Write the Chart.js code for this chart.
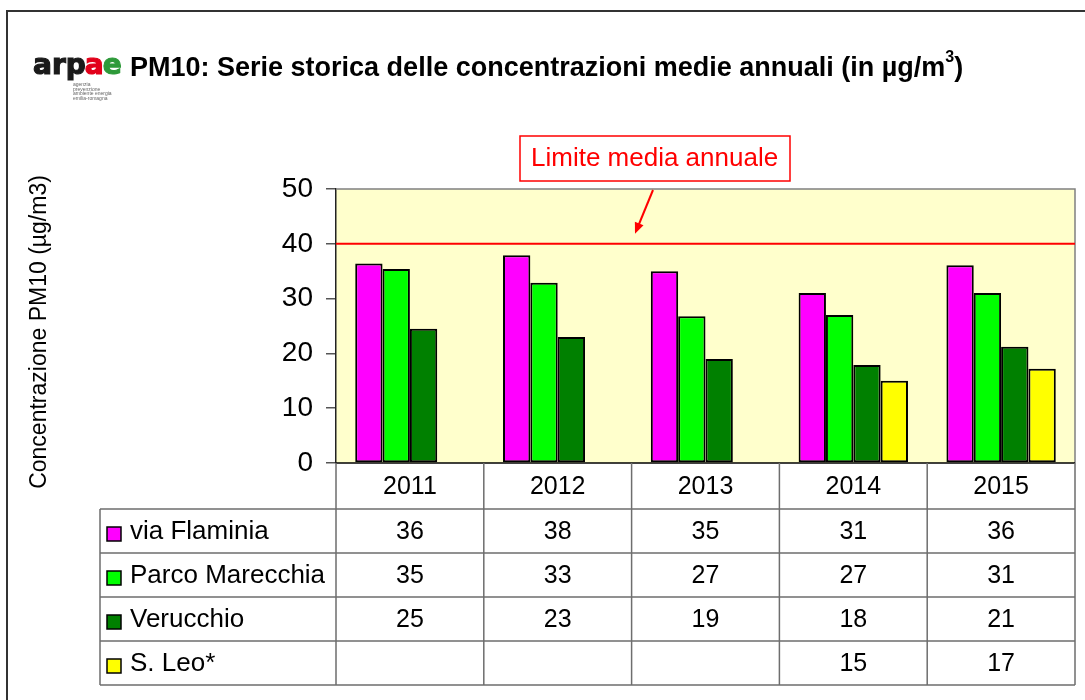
<!DOCTYPE html>
<html>
<head>
<meta charset="utf-8">
<script src="https://cdn.jsdelivr.net/npm/chart.js@4.4.1/dist/chart.umd.min.js"></script>
<style>
  html, body { margin: 0; padding: 0; background: #fff; }
  #wrap { width: 1085px; height: 700px; }
</style>
</head>
<body>
<div id="wrap"><canvas id="pm10Chart" width="1085" height="700"></canvas></div>
<script>
// =================== DATA ===================
const years = ["2011", "2012", "2013", "2014", "2015"];
const viaFlaminia = [36.4, 37.9, 35.0, 31.0, 36.1];
const parcoMarecchia = [35.4, 32.9, 26.8, 27.0, 31.0];
const verucchio = [24.5, 23.0, 19.0, 17.9, 21.2];
const sanLeo = [null, null, null, 15.0, 17.2];
const yTicks = [0, 10, 20, 30, 40, 50];
const limitValue = 40;
const seriesNames = ["via Flaminia", "Parco Marecchia", "Verucchio", "S. Leo*"];
const seriesColors = ["#FF00FF", "#00FF00", "#008000", "#FFFF00"];
const seriesData = [viaFlaminia, parcoMarecchia, verucchio, sanLeo];

const FONT = "'Liberation Sans', Arial, sans-serif";

// =================== PLUGINS ===================
// frame, plot background
const backgroundPlugin = {
  id: "bg",
  beforeDraw(chart) {
    const { ctx, chartArea: a } = chart;
    ctx.save();
    ctx.fillStyle = "#fff";
    ctx.fillRect(0, 0, chart.width, chart.height);
    ctx.strokeStyle = "#333";
    ctx.lineWidth = 2;
    ctx.strokeRect(7, 11, 1200, 800);
    ctx.fillStyle = "#FFFFCC";
    ctx.fillRect(a.left, a.top, a.right - a.left, a.bottom - a.top);
    ctx.restore();
  },
  afterDatasetsDraw(chart) {
    const { ctx, chartArea: a, scales: { y } } = chart;
    ctx.save();
    // gray top / right border
    ctx.strokeStyle = "#808080";
    ctx.lineWidth = 1.5;
    ctx.beginPath();
    ctx.moveTo(a.left, a.top);
    ctx.lineTo(a.right, a.top);
    ctx.lineTo(a.right, a.bottom);
    ctx.stroke();
    // limit line
    const ly = y.getPixelForValue(limitValue);
    ctx.strokeStyle = "#FF0000";
    ctx.lineWidth = 2;
    ctx.beginPath();
    ctx.moveTo(a.left, ly);
    ctx.lineTo(a.right, ly);
    ctx.stroke();
    // x axis line
    ctx.strokeStyle = "#000";
    ctx.lineWidth = 1.5;
    ctx.beginPath();
    ctx.moveTo(a.left, a.bottom);
    ctx.lineTo(a.right, a.bottom);
    ctx.stroke();
    ctx.restore();
  }
};

// title, logo, y title, annotation
const decorPlugin = {
  id: "decor",
  afterDraw(chart) {
    const { ctx, scales: { y } } = chart;
    ctx.save();

    // logo
    ctx.textBaseline = "alphabetic";
    ctx.font = "bold 28px 'DejaVu Sans', sans-serif";
    ctx.lineWidth = 1.2;
    let lx = 33;
    [["arp", "#1a1a1a"], ["a", "#E2001A"], ["e", "#2E9A3A"]].forEach(([t, c]) => {
      ctx.fillStyle = c;
      ctx.strokeStyle = c;
      ctx.fillText(t, lx, 74);
      ctx.strokeText(t, lx, 74);
      lx += ctx.measureText(t).width - 1;
    });
    ctx.font = "5px " + FONT;
    ctx.fillStyle = "#666";
    ["agenzia", "prevenzione", "ambiente energia", "emilia-romagna"].forEach((t, i) => {
      ctx.fillText(t, 73, 86 + i * 4.5);
    });

    // title
    ctx.fillStyle = "#000";
    ctx.font = "bold 27px " + FONT;
    const title = "PM10: Serie storica delle concentrazioni medie annuali (in µg/m";
    ctx.fillText(title, 130, 76);
    let tx = 130 + ctx.measureText(title).width;
    ctx.font = "bold 16px " + FONT;
    ctx.fillText("3", tx, 62);
    tx += ctx.measureText("3").width;
    ctx.font = "bold 27px " + FONT;
    ctx.fillText(")", tx, 76);

    // y title
    ctx.save();
    ctx.translate(40, 332);
    ctx.rotate(-Math.PI / 2);
    ctx.font = "23px " + FONT;
    ctx.textAlign = "center";
    ctx.textBaseline = "middle";
    ctx.fillText("Concentrazione PM10 (µg/m3)", 0, 0);
    ctx.restore();

    // annotation box
    ctx.fillStyle = "#fff";
    ctx.fillRect(520, 136, 270, 45);
    ctx.strokeStyle = "#FF0000";
    ctx.lineWidth = 1.5;
    ctx.strokeRect(520, 136, 270, 45);
    ctx.fillStyle = "#FF0000";
    ctx.font = "26px " + FONT;
    ctx.textBaseline = "middle";
    ctx.fillText("Limite media annuale", 531, 159);

    // arrow
    const ax0 = 653, ay0 = 190;
    const ax1 = 635, ay1 = y.getPixelForValue(limitValue) - 10;
    const ang = Math.atan2(ay1 - ay0, ax1 - ax0);
    ctx.strokeStyle = "#FF0000";
    ctx.lineWidth = 2;
    ctx.beginPath();
    ctx.moveTo(ax0, ay0);
    ctx.lineTo(ax1 - 6 * Math.cos(ang), ay1 - 6 * Math.sin(ang));
    ctx.stroke();
    ctx.beginPath();
    ctx.moveTo(ax1, ay1);
    ctx.lineTo(ax1 - 12 * Math.cos(ang - 0.4), ay1 - 12 * Math.sin(ang - 0.4));
    ctx.lineTo(ax1 - 12 * Math.cos(ang + 0.4), ay1 - 12 * Math.sin(ang + 0.4));
    ctx.closePath();
    ctx.fill();

    ctx.restore();
  }
};

// data table under the plot
const tablePlugin = {
  id: "dataTable",
  afterDraw(chart) {
    const { ctx, chartArea: a, scales: { x } } = chart;
    const top = a.bottom;
    const headBottom = top + 46;
    const rowH = 44;
    const tableLeft = 100;
    const bottom = headBottom + rowH * seriesNames.length;
    const half = (x.getPixelForValue(1) - x.getPixelForValue(0)) / 2;

    ctx.save();
    ctx.strokeStyle = "#6e6e6e";
    ctx.lineWidth = 1.5;
    ctx.beginPath();
    for (let r = 0; r <= seriesNames.length; r++) {
      const yy = headBottom + r * rowH;
      ctx.moveTo(tableLeft, yy);
      ctx.lineTo(a.right, yy);
    }
    ctx.moveTo(tableLeft, headBottom);
    ctx.lineTo(tableLeft, bottom);
    years.forEach((_, i) => {
      const xl = x.getPixelForValue(i) - half;
      ctx.moveTo(xl, top);
      ctx.lineTo(xl, bottom);
    });
    ctx.moveTo(a.right, top);
    ctx.lineTo(a.right, bottom);
    ctx.stroke();

    ctx.fillStyle = "#000";
    ctx.font = "25px " + FONT;
    ctx.textBaseline = "middle";
    ctx.textAlign = "center";
    years.forEach((yr, i) => {
      ctx.fillText(yr, x.getPixelForValue(i), (top + headBottom) / 2 + 1);
    });

    seriesNames.forEach((name, r) => {
      const cy = headBottom + r * rowH + rowH / 2;
      // legend key
      ctx.fillStyle = seriesColors[r];
      ctx.fillRect(107, cy - 4, 14, 14);
      ctx.strokeStyle = "#000";
      ctx.lineWidth = 1.5;
      ctx.strokeRect(107, cy - 4, 14, 14);
      ctx.fillStyle = "#000";
      ctx.textAlign = "left";
      ctx.font = "26px " + FONT;
      ctx.fillText(name, 130, cy + 1);
      ctx.textAlign = "center";
      ctx.font = "25px " + FONT;
      seriesData[r].forEach((v, i) => {
        if (v === null) return;
        ctx.fillText(String(Math.round(v)), x.getPixelForValue(i), cy + 1);
      });
    });
    ctx.restore();
  }
};

// =================== CHART ===================
const ctx = document.getElementById("pm10Chart").getContext("2d");

new Chart(ctx, {
  type: "bar",
  data: {
    labels: years,
    datasets: seriesNames.map((name, i) => ({
      label: name,
      data: seriesData[i],
      backgroundColor: seriesColors[i],
      borderColor: "#000",
      borderWidth: 2,
      borderSkipped: false,
      categoryPercentage: 0.74,
      barPercentage: 1.0
    }))
  },
  options: {
    responsive: false,
    animation: false,
    layout: { padding: { top: 189, right: 10, bottom: 237, left: 0 } },
    plugins: { legend: { display: false }, tooltip: { enabled: false } },
    scales: {
      x: { display: false },
      y: {
        min: 0,
        max: 50,
        afterFit: (scale) => { scale.width = 336; },
        afterBuildTicks: (scale) => { scale.ticks = yTicks.map(v => ({ value: v })); },
        ticks: {
          color: "#000",
          padding: 13,
          font: { family: FONT, size: 28 }
        },
        grid: {
          drawOnChartArea: false,
          drawTicks: true,
          tickLength: 10,
          color: "#555",
          lineWidth: 1.5
        },
        border: { display: true, color: "#222", width: 1.5 }
      }
    }
  },
  plugins: [backgroundPlugin, decorPlugin, tablePlugin]
});
</script>
</body>
</html>
